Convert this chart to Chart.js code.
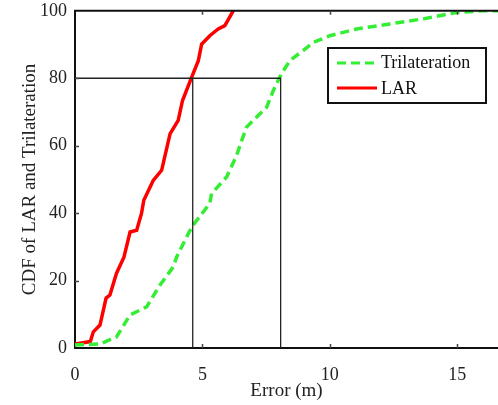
<!DOCTYPE html>
<html lang="en">
<head>
  <meta charset="UTF-8" />
  <title>CDF of LAR and Trilateration</title>
  <style>
    body {
      margin: 0;
      padding: 0;
      background-color: #fff;
    }
    #chart {
      display: block;
    }
  </style>
</head>
<body>
  <canvas id="chart" width="498" height="405"></canvas>

  <script src="https://cdn.jsdelivr.net/npm/chart.js"></script>
  <script>
    // error (m) and CDF (%)
    const larX = [0, 0.6, 0.72, 0.98, 1.22, 1.37, 1.63, 1.92, 2.16, 2.42, 2.61, 2.7, 3.07, 3.4, 3.73, 4.05, 4.22, 4.58, 4.84, 4.97, 5.29, 5.62, 5.88, 6.21];
    const larY = [1.2, 1.9, 4.8, 6.8, 14.8, 15.7, 22.2, 26.9, 34.4, 34.9, 39.9, 43.8, 49.7, 52.7, 63.5, 67.5, 73.4, 80.3, 85.2, 90.1, 92.6, 94.6, 95.6, 100];

    const triX = [0, 0.98, 1.63, 2.16, 2.81, 3.33, 3.85, 3.99, 4.58, 5.29, 5.36, 5.95, 6.34, 6.54, 6.73, 7.12, 7.52, 7.78, 8.1, 8.43, 8.95, 9.35, 10, 11.05, 12.35, 13.66, 14.97, 16, 16.6];
    const triY = [0.9, 1.2, 3.3, 9.8, 12.2, 18.6, 24, 27, 35.9, 42.9, 45.8, 50.7, 57.1, 61.5, 65.5, 68.4, 71.4, 76.3, 81.3, 85.2, 88.2, 90.6, 92.6, 94.6, 96.1, 97.6, 99.5, 100, 100];

    // 80th percentile guide lines
    const level = 80;
    const larAt80 = 4.62;
    const triAt80 = 8.07;

    const xTicks = [0, 5, 10, 15];
    const yTicks = [0, 20, 40, 60, 80, 100];

    const toPts = (xs, ys) => xs.map((x, i) => ({ x: x, y: ys[i] }));

    const serif = '"Liberation Serif", "Times New Roman", serif';

    // top border, inner tick marks and legend box
    const extras = {
      id: 'extras',
      afterDraw(chart) {
        const ctx = chart.ctx;
        const a = chart.chartArea;
        const xs = chart.scales.x;
        const ys = chart.scales.y;
        ctx.save();
        ctx.strokeStyle = '#111';
        ctx.lineWidth = 2;
        ctx.beginPath();
        ctx.moveTo(a.left - 1, a.top);
        ctx.lineTo(a.right, a.top);
        ctx.stroke();

        ctx.lineWidth = 1.5;
        ctx.strokeStyle = '#444';
        xTicks.slice(1).forEach(v => {
          const px = Math.round(xs.getPixelForValue(v)) + 0.5;
          ctx.beginPath();
          ctx.moveTo(px, a.bottom);
          ctx.lineTo(px, a.bottom - 4);
          ctx.moveTo(px, a.top);
          ctx.lineTo(px, a.top + 4);
          ctx.stroke();
        });
        yTicks.slice(1, -1).forEach(v => {
          const py = Math.round(ys.getPixelForValue(v)) + 0.5;
          ctx.beginPath();
          ctx.moveTo(a.left, py);
          ctx.lineTo(a.left + 4, py);
          ctx.stroke();
        });

        // legend
        const bx = 328, by = 48, bw = 158, bh = 55;
        ctx.fillStyle = '#fff';
        ctx.fillRect(bx, by, bw, bh);
        ctx.strokeStyle = '#111';
        ctx.lineWidth = 2;
        ctx.strokeRect(bx, by, bw, bh);

        ctx.lineWidth = 3;
        ctx.strokeStyle = '#33ee33';
        ctx.setLineDash([9, 5]);
        ctx.beginPath();
        ctx.moveTo(337, 63);
        ctx.lineTo(377, 63);
        ctx.stroke();
        ctx.setLineDash([]);
        ctx.strokeStyle = '#ff0000';
        ctx.beginPath();
        ctx.moveTo(337, 88);
        ctx.lineTo(377, 88);
        ctx.stroke();

        ctx.fillStyle = '#111';
        ctx.font = '18px ' + serif;
        ctx.textBaseline = 'middle';
        ctx.fillText('Trilateration', 381, 63);
        ctx.fillText('LAR', 381, 89);
        ctx.restore();
      }
    };

    new Chart(document.getElementById('chart'), {
      type: 'scatter',
      data: {
        datasets: [
          {
            label: 'guide',
            data: toPts([0, triAt80, triAt80], [level, level, 0]),
            showLine: true,
            borderColor: '#222',
            borderWidth: 1.3,
            pointRadius: 0
          },
          {
            label: 'guide',
            data: toPts([larAt80, larAt80], [level, 0]),
            showLine: true,
            borderColor: '#222',
            borderWidth: 1.3,
            pointRadius: 0
          },
          {
            label: 'Trilateration',
            data: toPts(triX, triY),
            showLine: true,
            borderColor: '#33ee33',
            borderWidth: 3.5,
            borderDash: [9, 5],
            pointRadius: 0
          },
          {
            label: 'LAR',
            data: toPts(larX, larY),
            showLine: true,
            borderColor: '#ff0000',
            borderWidth: 3.5,
            pointRadius: 0
          }
        ]
      },
      options: {
        responsive: false,
        animation: false,
        layout: { padding: { left: 0, top: 10, right: 0, bottom: 0 } },
        plugins: {
          legend: { display: false },
          tooltip: { enabled: false }
        },
        scales: {
          x: {
            type: 'linear',
            min: 0,
            max: 16.6,
            afterFit: s => { s.height = 57; },
            afterBuildTicks: s => { s.ticks = xTicks.map(v => ({ value: v })); },
            grid: { display: false },
            border: { display: true, color: '#111', width: 2 },
            ticks: {
              color: '#222',
              padding: 8,
              font: { family: serif, size: 18 }
            },
            title: {
              display: true,
              text: 'Error (m)',
              color: '#222',
              padding: { top: 0, bottom: 3 },
              font: { family: serif, size: 19 }
            }
          },
          y: {
            type: 'linear',
            min: 0,
            max: 100,
            afterFit: s => { s.width = 75; },
            afterBuildTicks: s => { s.ticks = yTicks.map(v => ({ value: v })); },
            grid: { display: false },
            border: { display: true, color: '#111', width: 2 },
            ticks: {
              color: '#222',
              padding: 0,
              font: { family: serif, size: 18 }
            },
            title: {
              display: true,
              text: 'CDF of LAR and Trilateration',
              color: '#222',
              padding: { top: 19, bottom: 0 },
              font: { family: serif, size: 19 }
            }
          }
        }
      },
      plugins: [extras]
    });
  </script>
</body>
</html>
